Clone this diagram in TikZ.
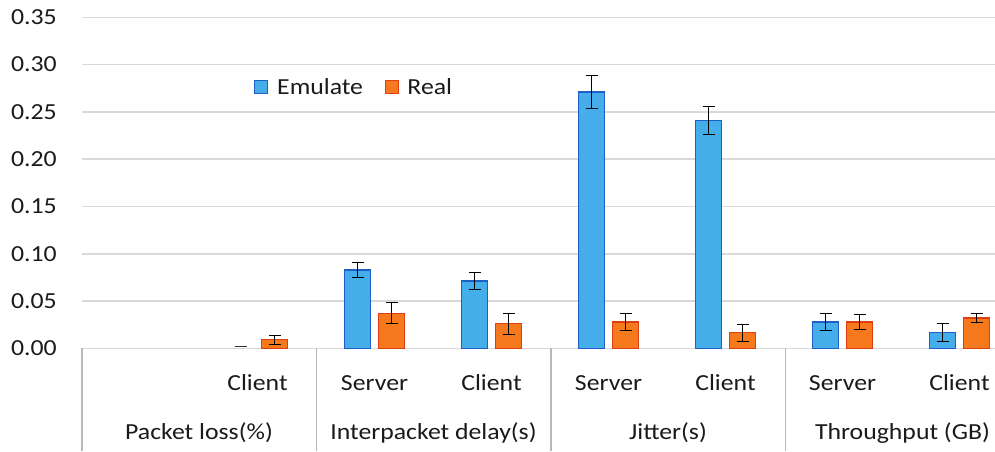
\documentclass[tikz,border=0pt]{standalone}
\usepackage{fontspec}
\setmainfont{Carlito}[FakeStretch=1.12]
\usetikzlibrary{positioning}

\definecolor{emublue}{HTML}{45ADEA}
\definecolor{emuedge}{HTML}{1D5FC6}
\definecolor{realorange}{HTML}{F7791D}
\definecolor{realedge}{HTML}{DE3F10}
\definecolor{gridgray}{HTML}{D9D9D9}
\definecolor{txtgray}{HTML}{1A1A1A}

\tikzset{
  gridline/.style={draw=gridgray, line width=1.6pt},
  divider/.style={draw=gridgray!85!black, line width=1.2pt},
  emubar/.style={fill=emublue, draw=emuedge, line width=1.4pt},
  realbar/.style={fill=realorange, draw=realedge, line width=1.4pt},
  errbar/.style={draw=black, line width=1.1pt},
  lbl/.style={font=\fontsize{23}{27}\selectfont, text=txtgray, inner sep=0pt},
  keybox/.style={minimum size=13pt, inner sep=0pt, line width=1pt},
}

\begin{document}
\begin{tikzpicture}[x=1pt,y=1pt]
  \useasboundingbox (0,0) rectangle (995,-451);
  % grid lines and y ticks
  \foreach \v [count=\k from 0] in {0.00,0.05,0.10,0.15,0.20,0.25,0.30,0.35}{
    \pgfmathsetmacro\py{-348.3+945.7*\v}
    \draw[gridline] (82,\py) -- (995,\py);
    \node[lbl, anchor=east] (tick\k) at (57,\py) {\v};
  }
  % group dividers
  \foreach \gx in {82,316.5,551,785.5}
    \draw[divider] (\gx,-348.3) -- (\gx,-451);

  % bars with error bars
  \begin{scope}[shift={(82,-348.3)}, y=945.7pt]
    \foreach \i/\b/\be/\r/\re in {1/0/0/0.009/0.005, 2/0.083/0.008/0.037/0.011,
        3/0.071/0.009/0.026/0.011, 4/0.271/0.017/0.028/0.009,
        5/0.241/0.015/0.0165/0.009, 6/0.028/0.009/0.028/0.008,
        7/0.0165/0.0095/0.032/0.005}{
      \pgfmathsetmacro\c{58.5+117*\i}
      \ifdim \b pt>0pt
        \draw[emubar] (\c-30,0) rectangle (\c-4,\b);
        \draw[errbar] (\c-17,\b-\be) -- (\c-17,\b+\be)
          (\c-23,\b-\be) -- (\c-11,\b-\be) (\c-23,\b+\be) -- (\c-11,\b+\be);
      \else
        \draw[errbar, draw=black!80] (\c-23,0.002) -- (\c-11,0.002);
      \fi
      \draw[realbar] (\c+4,0) rectangle (\c+30,\r);
      \draw[errbar] (\c+17,\r-\re) -- (\c+17,\r+\re)
        (\c+11,\r-\re) -- (\c+23,\r-\re) (\c+11,\r+\re) -- (\c+23,\r+\re);
    }
  \end{scope}

  % legend
  \node[keybox, draw=emuedge, fill=emublue] (keyE) at (261,-86.5) {};
  \node[lbl, right=9pt of keyE] (lgE) {Emulate};
  \node[keybox, draw=realedge, fill=realorange, right=22pt of lgE] (keyR) {};
  \node[lbl, right=8pt of keyR] (lgR) {Real};

  % category labels
  \foreach \i/\t in {1/Client,2/Server,3/Client,4/Server,5/Client,6/Server,7/Client}
    \node[lbl] (sub\i) at (140.5+117*\i,-383) {\t};
  \foreach \j/\t in {0/Packet loss(\%),1/Interpacket delay(s),2/Jitter(s),3/Throughput (GB)}
    \node[lbl] (grp\j) at (199+234.5*\j,-433) {\t};
\end{tikzpicture}
\end{document}
